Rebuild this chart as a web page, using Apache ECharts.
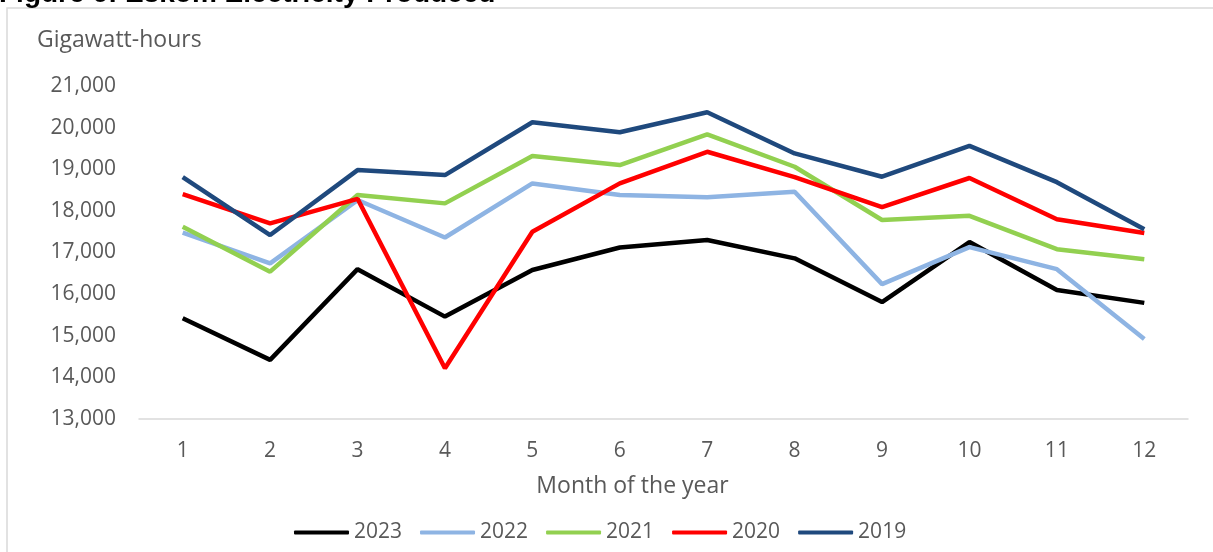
<!DOCTYPE html>
<html>
<head>
<meta charset="utf-8">
<script src="https://cdn.jsdelivr.net/npm/echarts@6/dist/echarts.min.js"></script>
<style>
  html, body { margin: 0; padding: 0; background: #fff; }
  #chart { width: 1213px; height: 552px; }
</style>
</head>
<body>
<div id="chart"></div>
<script>
// 月份 (x 轴)
const months = ['1', '2', '3', '4', '5', '6', '7', '8', '9', '10', '11', '12'];
// 各年发电量, GWh
const gwh2023 = [15420, 14420, 16600, 15460, 16580, 17120, 17300, 16860, 15810, 17250, 16100, 15790];
const gwh2022 = [17480, 16740, 18260, 17360, 18660, 18380, 18330, 18460, 16240, 17130, 16600, 14920];
const gwh2021 = [17620, 16540, 18380, 18180, 19320, 19100, 19840, 19060, 17780, 17880, 17080, 16840];
const gwh2020 = [18400, 17700, 18290, 14220, 17500, 18660, 19420, 18810, 18090, 18790, 17800, 17470];
const gwh2019 = [18810, 17420, 18980, 18860, 20130, 19890, 20370, 19380, 18820, 19560, 18690, 17560];
const years = ['2023', '2022', '2021', '2020', '2019'];
const yTicks = [13000, 21000, 1000]; // min, max, 间隔

const colors = ['#000000', '#8EB4E3', '#92D050', '#FF0000', '#1F497D'];
const allData = [gwh2023, gwh2022, gwh2021, gwh2020, gwh2019];
const font = 'Open Sans, Noto Sans, sans-serif';

const chart = echarts.init(document.getElementById('chart'));
chart.setOption({
  animation: false,
  color: colors,
  graphic: [
    // 外框
    {
      type: 'rect',
      shape: { x: 7, y: 8, width: 1230, height: 570 },
      style: { fill: 'none', stroke: '#d9d9d9', lineWidth: 1.5 },
      silent: true
    },
    // 被截掉的标题
    {
      type: 'text',
      x: -1,
      y: 8,
      style: {
        text: 'Figure 6: Eskom Electricity Produced',
        font: 'bold 28px Liberation Sans, Arial, sans-serif',
        fill: '#000',
        verticalAlign: 'bottom'
      },
      silent: true
    },
    {
      type: 'text',
      x: 37,
      y: 29,
      style: {
        text: 'Gigawatt-hours',
        font: '23px ' + font,
        fill: '#595959'
      },
      silent: true
    }
  ],
  grid: { left: 139, right: 25, top: 86, bottom: 133 },
  legend: {
    bottom: 4,
    left: 289,
    icon: 'roundRect',
    itemWidth: 55,
    itemHeight: 4,
    itemGap: 18,
    textStyle: { fontSize: 21, color: '#595959', fontFamily: font },
    data: years
  },
  xAxis: {
    type: 'category',
    data: months,
    boundaryGap: true,
    name: 'Month of the year',
    nameLocation: 'middle',
    nameGap: 56,
    nameTextStyle: { fontSize: 23, color: '#595959', fontFamily: font, padding: [0, 62, 0, 0] },
    axisLine: { lineStyle: { color: '#d9d9d9', width: 1.5 } },
    axisTick: { show: false },
    axisLabel: { fontSize: 21, color: '#595959', fontFamily: font, margin: 22 }
  },
  yAxis: {
    type: 'value',
    min: yTicks[0],
    max: yTicks[1],
    interval: yTicks[2],
    splitLine: { show: false },
    axisLine: { show: false },
    axisTick: { show: false },
    axisLabel: {
      fontSize: 21,
      color: '#595959',
      fontFamily: font,
      margin: 23,
      formatter: v => v.toLocaleString('en-US')
    }
  },
  series: years.map((y, i) => ({
    name: y,
    type: 'line',
    data: allData[i],
    symbol: 'none',
    lineStyle: { width: 4.5, color: colors[i] }
  }))
});
</script>
</body>
</html>
